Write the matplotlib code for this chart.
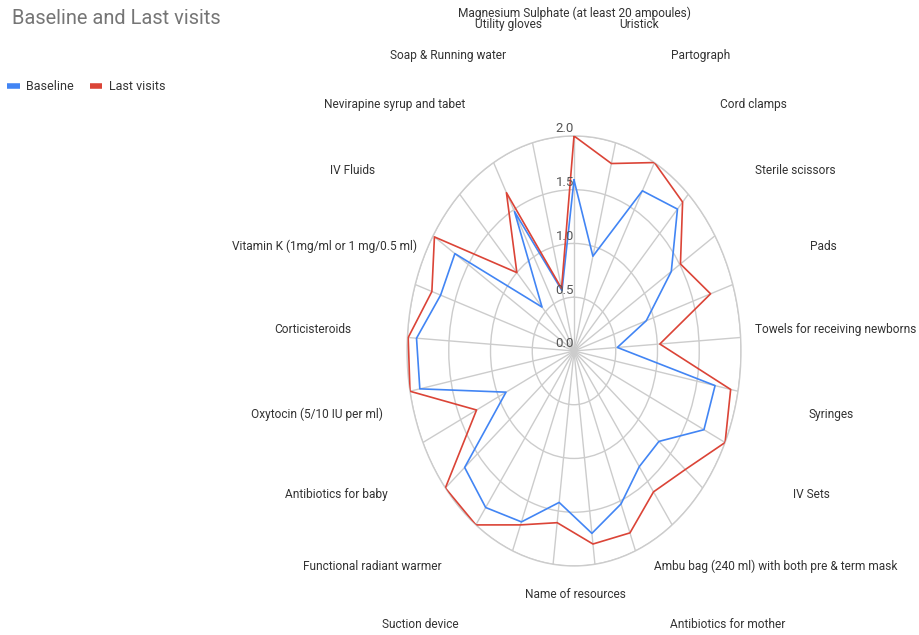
import numpy as np
import matplotlib
matplotlib.use("Agg")
import matplotlib.pyplot as plt
from matplotlib.lines import Line2D

plt.rcParams['font.family'] = ['Roboto', 'DejaVu Sans']

# ---- data ----
categories = [
    "Magnesium Sulphate (at least 20 ampoules)", "Uristick", "Partograph", "Cord clamps",
    "Sterile scissors", "Pads", "Towels for receiving newborns", "Syringes", "IV Sets",
    "Ambu bag (240 ml) with both pre & term mask", "Antibiotics for mother", "", "", "", "",
    "Suction device", "Functional radiant warmer", "Antibiotics for baby",
    "Oxytocin (5/10 IU per ml)", "Corticisteroids", "Vitamin K (1mg/ml or 1 mg/0.5 ml)",
    "IV Fluids", "Nevirapine syrup and tabet", "Soap & Running water", "Utility gloves",
]
baseline = [1.59, 0.91, 1.70, 1.81, 1.38, 0.91, 0.52, 1.72, 1.72, 1.32, 1.33, 1.53, 1.71,
            1.42, 1.71, 1.80, 1.70, 0.90, 1.88, 1.89, 1.68, 1.69, 0.56, 1.48, 0.58]
last_visits = [2.00, 1.80, 2.00, 1.90, 1.51, 1.72, 1.03, 1.91, 2.00, 1.73, 1.62, 1.82, 1.81,
               1.61, 1.74, 2.00, 2.00, 1.29, 2.00, 1.99, 1.79, 1.98, 1.00, 1.68, 0.60]
series_names = ["Baseline", "Last visits"]
r_ticks = [0.0, 0.5, 1.0, 1.5, 2.0]
r_tick_labels = ["0.0", "0.5", "1.0", "1.5", "2.0"]
title = "Baseline and Last visits"
axis_title = "Name of resources"

colors = ["#4285F4", "#DB4437"]
grid_color = "#cccccc"

n = len(categories)
theta = np.arange(n) * 2 * np.pi / n

fig = plt.figure(figsize=(9.19, 6.35), dpi=100)
ax = fig.add_axes([0.4429, 0.1087, 0.3634, 0.6772], projection='polar')
ax.set_aspect('auto')
ax.set_theta_zero_location('N')
ax.set_theta_direction(-1)
ax.set_ylim(0, 2.0)

ax.set_xticks(theta)
ax.set_xticklabels([])
ax.set_yticks(r_ticks[1:])
ax.set_yticklabels([])
ax.grid(True, color=grid_color, linewidth=1.0)
ax.spines['polar'].set_color(grid_color)
ax.spines['polar'].set_linewidth(1.0)
ax.tick_params(axis='both', length=0)

for vals, col in zip([baseline, last_visits], colors):
    v = np.array(vals + vals[:1])
    t = np.concatenate([theta, theta[:1]])
    ax.plot(t, v, color=col, linewidth=1.2, zorder=3)

# category labels
for th, lab in zip(theta, categories):
    if lab:
        ax.text(th, 3.14, lab, ha='center', va='center', fontsize=8.6,
                color='#333333', clip_on=False)

# radial labels
for rv, rl in zip(r_ticks, r_tick_labels):
    ax.annotate(rl, xy=(0, rv), xytext=(0, 7), textcoords='offset pixels',
                ha='right', va='center', fontsize=9.5, color='#555555',
                annotation_clip=False, zorder=4)

fig.text(575 / 919, 1 - 595 / 635, axis_title, ha='center', va='center',
         fontsize=8.6, color='#333333')

fig.text(12 / 919, 1 - 18 / 635, title, ha='left', va='center', fontsize=14.4,
         color='#757575')

handles = [Line2D([], [], color=c, linewidth=4, solid_capstyle='butt') for c in colors]
fig.legend(handles, series_names, loc='center left',
           bbox_to_anchor=(7 / 919, 1 - 87 / 635), ncol=2, frameon=False,
           fontsize=9, handlelength=1.0, handletextpad=0.55, columnspacing=1.25,
           borderaxespad=0, borderpad=0, labelcolor='#333333')

fig.savefig("out.png", dpi=100)
